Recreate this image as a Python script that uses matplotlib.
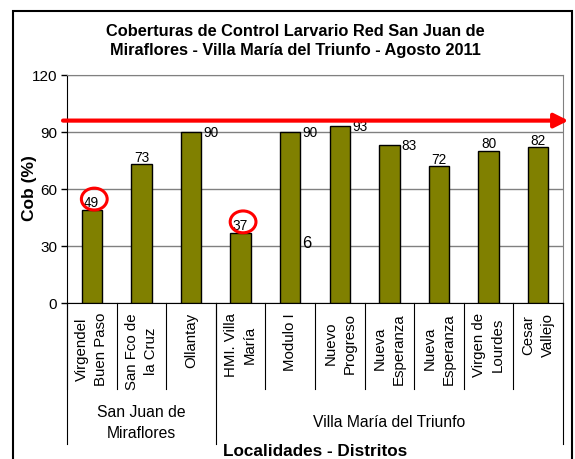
import matplotlib
matplotlib.use("Agg")
import matplotlib.pyplot as plt
from matplotlib.patches import Ellipse, Rectangle
from matplotlib.transforms import blended_transform_factory

plt.rcParams['font.family'] = ['Liberation Sans', 'DejaVu Sans']

# ---- data ----
categories = ["Virgendel\nBuen Paso", "San Fco de\nla Cruz", "Ollantay",
              "HMI. Villa\nMaría", "Modulo I", "Nuevo\nProgreso",
              "Nueva\nEsperanza", "Nueva\nEsperanza", "Virgen de\nLourdes",
              "Cesar\nVallejo"]
values = [49, 73, 90, 37, 90, 93, 83, 72, 80, 82]
groups = ["San Juan de\nMiraflores", "Villa María del Triunfo"]
group_sizes = [3, 7]
target = 96
highlight = [0, 3]
yticks = [0, 30, 60, 90, 120]
title = "Coberturas de Control Larvario Red San Juan de\nMiraflores - Villa María del Triunfo - Agosto 2011"
stray_text = "6"
stray_value = 32

# label placement style
label_side = ['top', 'top', 'right', 'top', 'right', 'right', 'right', 'top', 'top', 'top']

fig = plt.figure(figsize=(5.75, 4.6), dpi=100)
ax = fig.add_axes([67/575, 1-304/460, 496/575, 228/460])

x = list(range(len(values)))
bars = ax.bar(x, values, width=0.41, color='#808000', edgecolor='black', linewidth=1, zorder=3)

ax.set_xlim(-0.5, len(values) - 0.5)
ax.set_ylim(0, 120)
ax.set_yticks(yticks)
ax.set_yticklabels([str(t) for t in yticks], fontsize=11)
ax.set_xticks([])
ax.yaxis.grid(True, color='#808080', linewidth=1, zorder=0)
ax.tick_params(axis='y', length=4, width=1, color='black', pad=3)
for s in ['top', 'right']:
    ax.spines[s].set_color('#808080')
for s in ['left', 'bottom']:
    ax.spines[s].set_color('black')

ax.set_ylabel("Cob (%)", fontsize=12.5, fontweight='bold')
ax.yaxis.set_label_coords((37 - 67) / 496, (304 - 188) / 228)

# value labels
for i, (v, side) in enumerate(zip(values, label_side)):
    if side == 'top':
        ax.annotate(str(v), (i, v), xytext=(0, 0.5), textcoords='offset points',
                    ha='center', va='bottom', fontsize=9.8, zorder=5)
    else:
        ax.annotate(str(v), (i + 0.205, v), xytext=(1.5, 0), textcoords='offset points',
                    ha='left', va='center', fontsize=9.8, zorder=5)

# stray label
ax.annotate(stray_text, (4 + 0.205, stray_value), xytext=(1, 0), textcoords='offset points',
            ha='left', va='center', fontsize=12, zorder=5)

# red circles around highlighted labels
for i in highlight:
    e = Ellipse((i + 0.05, values[i] + 5.7), width=0.52, height=11.5, fill=False,
                edgecolor='#ff0000', linewidth=2.2, zorder=6, clip_on=False)
    ax.add_patch(e)

# target arrow
tr = blended_transform_factory(ax.transAxes, ax.transData)
ax.annotate("", xy=(1.011, target), xycoords=tr, xytext=(-0.008, target), textcoords=tr,
            arrowprops=dict(arrowstyle='-|>', color='#ff0000', lw=3, shrinkA=0, shrinkB=0,
                            mutation_scale=21),
            annotation_clip=False, zorder=7)

# category labels and separators
trx = blended_transform_factory(ax.transData, fig.transFigure)
y_axis = 1 - 304/460
y_cat = 1 - 390/460
y_grp = 1 - 445/460
for i, c in enumerate(categories):
    fig.text(i, 1 - 313/460, c, transform=trx, rotation=90, ha='center', va='top',
             multialignment='center', fontsize=10.8, linespacing=1.45)
for b in range(len(categories) + 1):
    fig.add_artist(plt.Line2D([b - 0.5, b - 0.5], [y_axis, y_cat], transform=trx,
                              color='black', linewidth=0.8))
start = 0
bounds = [-0.5]
for g, n in zip(groups, group_sizes):
    mid = start + (n - 1) / 2
    fig.text(mid, 1 - 423/460, g, transform=trx, ha='center', va='center',
             fontsize=11.3, linespacing=1.5)
    start += n
    bounds.append(start - 0.5)
for b in bounds:
    fig.add_artist(plt.Line2D([b, b], [y_axis, y_grp], transform=trx,
                              color='black', linewidth=0.8))

fig.text(315/575, 1 - 452/460, "Localidades - Distritos", ha='center', va='center',
         fontsize=12.3, fontweight='bold')

fig.text(295/575, 1 - 41/460, title, ha='center', va='center', fontsize=11.8,
         fontweight='bold', linespacing=1.35)

# outer border
fig.add_artist(Rectangle((13/575, -0.1), (572-13)/575, 0.1 + 1 - 12/460,
                         transform=fig.transFigure, fill=False, edgecolor='black',
                         linewidth=1.5))

fig.savefig("out.png", dpi=100)
